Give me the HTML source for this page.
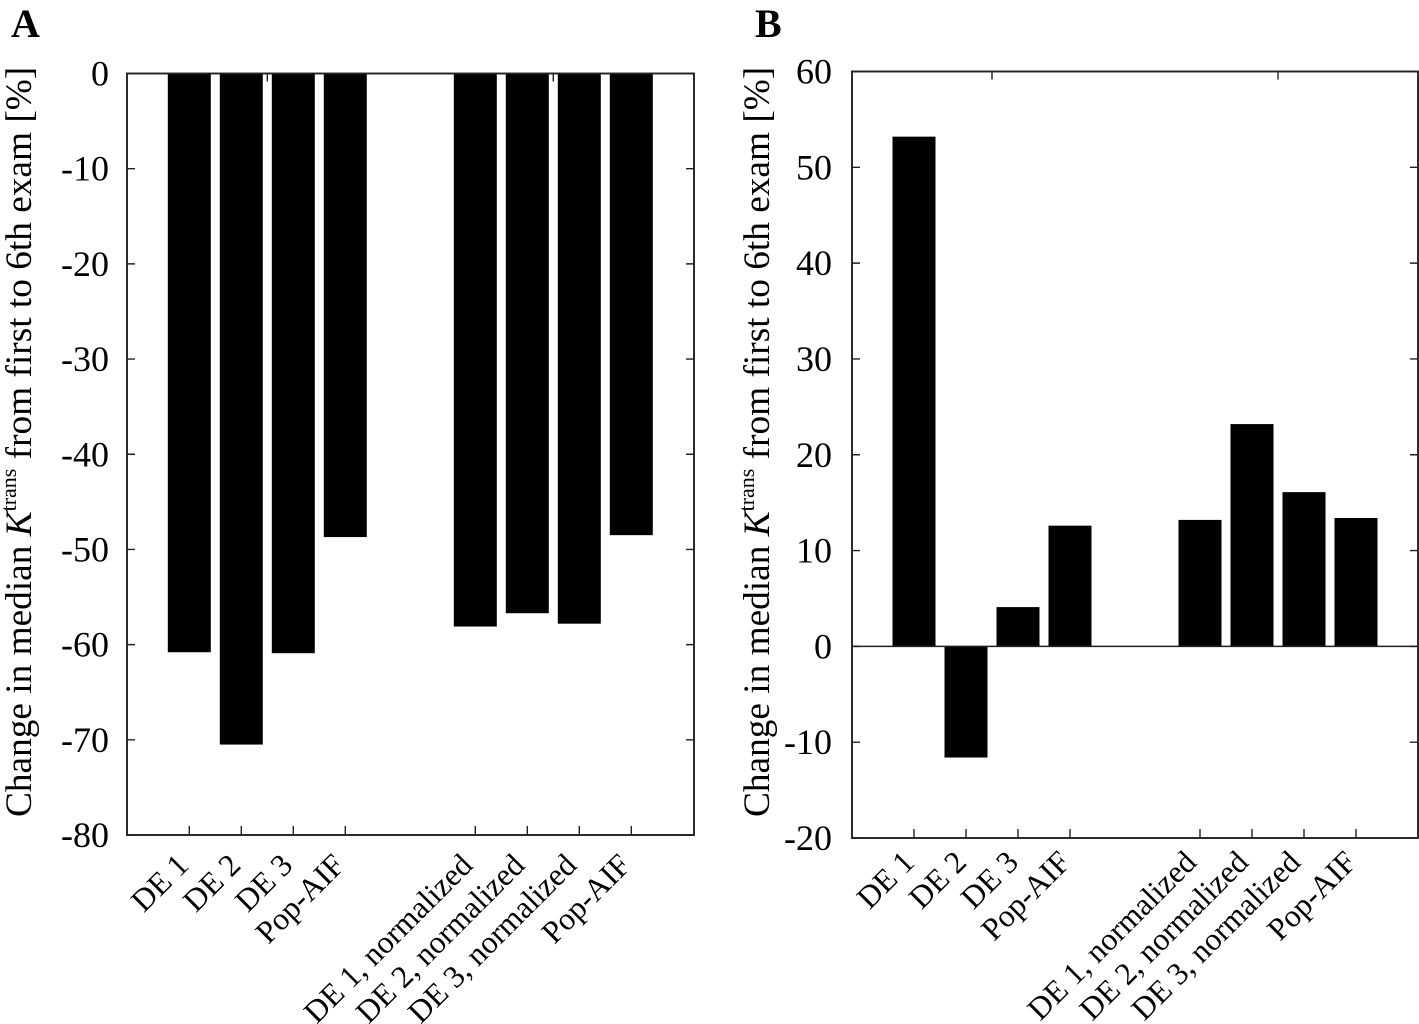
<!DOCTYPE html>
<html>
<head>
<meta charset="utf-8">
<style>
html,body{margin:0;padding:0;background:#fff;width:1419px;height:1024px;overflow:hidden}
svg{display:block;font-family:"Liberation Serif",serif;fill:#000}
</style>
</head>
<body>
<svg id="fig" width="1419" height="1024" viewBox="0 0 1419 1024" xmlns="http://www.w3.org/2000/svg">
  <text x="11" y="37" font-size="40" font-weight="bold">A</text>
  <text x="755" y="37" font-size="40" font-weight="bold">B</text>
  <g id="panelA"></g>
  <g id="panelB"></g>
  <text transform="translate(31,817) rotate(-90)" font-size="37.3">Change in median <tspan font-style="italic">K</tspan><tspan font-size="22" dy="-15">trans</tspan><tspan dy="15"> from first to 6th exam [%]</tspan></text>
  <text transform="translate(769,817) rotate(-90)" font-size="37.3">Change in median <tspan font-style="italic">K</tspan><tspan font-size="22" dy="-15">trans</tspan><tspan dy="15"> from first to 6th exam [%]</tspan></text>
</svg>
<script>
const categories = ["DE 1","DE 2","DE 3","Pop-AIF","DE 1, normalized","DE 2, normalized","DE 3, normalized","Pop-AIF"];
const categorySlots = [0,1,2,3,5.5,6.5,7.5,8.5];
const groupSlots = [1.5,7];
const valuesA = [-60.8,-70.5,-60.9,-48.7,-58.1,-56.7,-57.8,-48.5];
const valuesB = [53.2,-11.6,4.1,12.6,13.2,23.2,16.1,13.4];
const ticksA = [0,-10,-20,-30,-40,-50,-60,-70,-80];
const ticksB = [60,50,40,30,20,10,0,-10,-20];

const NS = "http://www.w3.org/2000/svg";
function make(parent, tag, attrs){
  const el = document.createElementNS(NS, tag);
  for (const k in attrs) el.setAttribute(k, attrs[k]);
  parent.appendChild(el);
  return el;
}
function drawPanel(g, frame, values, ticks, yMax, yMin, firstCenter, layout){
  const y = v => frame.top + (yMax - v) / (yMax - yMin) * (frame.bottom - frame.top);
  const x = s => firstCenter + s * 52;
  const barWidth = 43;

  values.forEach(function(v, i){
    const top = Math.min(y(v), y(0));
    const h = Math.abs(y(v) - y(0));
    const bar = make(g, "rect", {x: x(categorySlots[i]) - barWidth / 2, y: top, width: barWidth, height: h, fill: "#000"});
    
    
  });

  if (yMin < 0 && yMax > 0) {
    const zero = make(g, "line", {x1: frame.left, x2: frame.right, y1: y(0), y2: y(0), stroke: "#222", "stroke-width": 1.6});
    
    
  }

  ticks.forEach(function(t){
    const l = make(g, "path", {d: "M" + frame.left + " " + y(t) + "h8M" + frame.right + " " + y(t) + "h-8", stroke: "#222", "stroke-width": 1.4, fill: "none"});
    
    
    const label = make(g, "text", {x: frame.left - layout.tickGap, y: y(t) + 12, "font-size": 36, "text-anchor": "end"});
    label.textContent = String(t);
    
    
  });

  categories.forEach(function(c, i){
    const cx = x(categorySlots[i]);
    const l = make(g, "path", {d: "M" + cx + " " + frame.bottom + "v-9", stroke: "#222", "stroke-width": 1.4, fill: "none"});
    
    
    const dx = c.length > 8 ? layout.longDx : layout.shortDx;
    const label = make(g, "text", {transform: "translate(" + (cx + dx) + "," + (frame.bottom + layout.labelDy) + ") rotate(-45)", "font-size": 31.5, "text-anchor": "end"});
    label.textContent = c;
    
    
  });

  groupSlots.forEach(function(s){
    const l = make(g, "path", {d: "M" + x(s) + " " + frame.top + "v8", stroke: "#222", "stroke-width": 1.4, fill: "none"});
    
    
  });

  const box = make(g, "rect", {x: frame.left, y: frame.top, width: frame.right - frame.left, height: frame.bottom - frame.top, fill: "none", stroke: "#222", "stroke-width": 1.9});
  
  
}
drawPanel(document.getElementById("panelA"), {left:127, right:694, top:73.5, bottom:835}, valuesA, ticksA, 0, -80, 189.3, {tickGap:18, shortDx:1, longDx:-1, labelDy:32});
drawPanel(document.getElementById("panelB"), {left:852, right:1418, top:71.5, bottom:838}, valuesB, ticksB, 60, -20, 914, {tickGap:20, shortDx:2, longDx:-2, labelDy:26});
</script>
</body>
</html>
